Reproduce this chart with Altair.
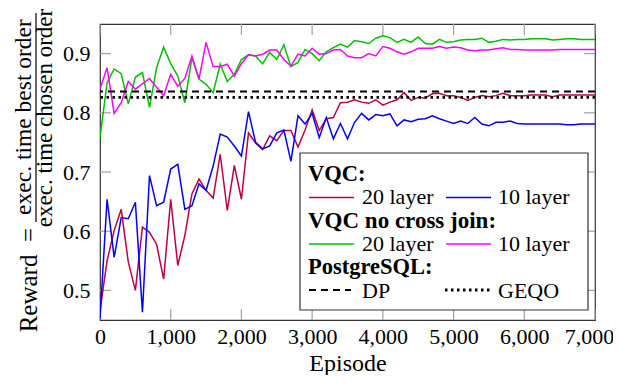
import altair as alt
import pandas as pd

# ---------------- data ----------------
episodes = list(range(0, 7001, 100))

vqc_20 = [0.466, 0.550, 0.601, 0.637, 0.548, 0.500, 0.607, 0.598, 0.578, 0.519,
          0.654, 0.542, 0.593, 0.663, 0.688, 0.669, 0.656, 0.730, 0.635, 0.711,
          0.654, 0.766, 0.749, 0.738, 0.761, 0.753, 0.770, 0.770, 0.742, 0.771,
          0.805, 0.770, 0.790, 0.792, 0.817, 0.818, 0.822, 0.818, 0.816, 0.822,
          0.813, 0.818, 0.822, 0.834, 0.821, 0.826, 0.825, 0.832, 0.833, 0.829,
          0.829, 0.826, 0.821, 0.826, 0.829, 0.827, 0.829, 0.833, 0.829, 0.829,
          0.829, 0.830, 0.830, 0.830, 0.827, 0.830, 0.830, 0.830, 0.830, 0.830,
          0.830]

vqc_10 = [0.452, 0.654, 0.556, 0.623, 0.621, 0.649, 0.463, 0.694, 0.643, 0.649,
          0.705, 0.713, 0.637, 0.643, 0.680, 0.669, 0.710, 0.764, 0.759, 0.744,
          0.727, 0.802, 0.750, 0.739, 0.744, 0.766, 0.771, 0.718, 0.795, 0.781,
          0.799, 0.758, 0.792, 0.756, 0.782, 0.756, 0.784, 0.799, 0.788, 0.797,
          0.795, 0.798, 0.778, 0.788, 0.785, 0.789, 0.790, 0.795, 0.790, 0.786,
          0.782, 0.786, 0.782, 0.792, 0.781, 0.778, 0.784, 0.784, 0.786, 0.782,
          0.781, 0.781, 0.781, 0.781, 0.781, 0.781, 0.780, 0.780, 0.781, 0.781,
          0.781]

nocj_20 = [0.758, 0.851, 0.874, 0.866, 0.815, 0.860, 0.868, 0.809, 0.876, 0.911,
           0.883, 0.862, 0.817, 0.893, 0.857, 0.848, 0.834, 0.882, 0.853, 0.865,
           0.890, 0.898, 0.896, 0.883, 0.902, 0.890, 0.915, 0.878, 0.885, 0.907,
           0.900, 0.888, 0.903, 0.910, 0.916, 0.911, 0.922, 0.920, 0.917, 0.926,
           0.930, 0.927, 0.919, 0.924, 0.919, 0.928, 0.917, 0.916, 0.924, 0.919,
           0.920, 0.923, 0.924, 0.924, 0.926, 0.919, 0.921, 0.924, 0.923, 0.924,
           0.924, 0.925, 0.925, 0.925, 0.923, 0.924, 0.925, 0.925, 0.924, 0.924,
           0.924]

nocj_10 = [0.840, 0.876, 0.799, 0.817, 0.853, 0.840, 0.849, 0.858, 0.843, 0.829,
           0.865, 0.845, 0.858, 0.896, 0.857, 0.919, 0.878, 0.878, 0.882, 0.862,
           0.883, 0.898, 0.896, 0.899, 0.906, 0.906, 0.890, 0.879, 0.899, 0.896,
           0.909, 0.899, 0.900, 0.906, 0.907, 0.896, 0.893, 0.893, 0.900, 0.896,
           0.912, 0.909, 0.903, 0.899, 0.903, 0.909, 0.909, 0.909, 0.912, 0.909,
           0.911, 0.910, 0.906, 0.905, 0.906, 0.906, 0.908, 0.910, 0.907, 0.907,
           0.906, 0.906, 0.906, 0.906, 0.906, 0.907, 0.907, 0.907, 0.907, 0.907,
           0.907]

dp_value = [0.836]
geqo_value = [0.826]

x_ticks = [0, 1000, 2000, 3000, 4000, 5000, 6000, 7000]
y_ticks = [0.5, 0.6, 0.7, 0.8, 0.9]

# ---------------- styling ----------------
W, H = 495, 296
FONT = "Liberation Serif"
FS = 22
C_VQC20 = "#bf0040"
C_VQC10 = "#0000ff"
C_NC20 = "#00c000"
C_NC10 = "#ff00ff"
TICK = "#a0a0a0"
LW = 1.5

xs = alt.Scale(domain=[0, 7000], nice=False, zero=False)
ys = alt.Scale(domain=[0.45, 0.95], nice=False, zero=False)

x_axis = alt.Axis(values=x_ticks, format=",d", ticks=False, domain=False, grid=False,
                  labelFont=FONT, labelFontSize=22, labelColor="black", labelPadding=6,
                  labelFlush=False,
                  labelOffset=alt.condition("datum.value == 7000", alt.value(-6), alt.value(0)),
                  title="Episode", titleFont=FONT, titleFontSize=24,
                  titleFontWeight="normal", titleColor="black", titlePadding=4)
y_axis = alt.Axis(values=y_ticks, format=".1f", ticks=False, domain=False, grid=False,
                  labelFont=FONT, labelFontSize=22, labelColor="black", labelPadding=10,
                  labelFlush=False, title=None)

X = alt.X("episode:Q", scale=xs, axis=x_axis)
Y = alt.Y("reward:Q", scale=ys, axis=y_axis)

one = pd.DataFrame({"d": [0]})


def series(vals, color):
    df = pd.DataFrame({"episode": episodes, "reward": vals})
    return alt.Chart(df).mark_line(color=color, strokeWidth=LW, clip=True).encode(x=X, y=Y)


def hline(vals, dash, width):
    df = pd.DataFrame({"reward": vals})
    return alt.Chart(df).mark_rule(color="black", strokeDash=dash,
                                   strokeWidth=width).encode(y=Y)


def txt(s, x, y, bold=False, size=FS, angle=0, align="left"):
    return alt.Chart(one).mark_text(text=s, font=FONT, fontSize=size,
                                    fontWeight="bold" if bold else "normal",
                                    align=align, baseline="middle", angle=angle,
                                    color="black").encode(x=alt.value(x), y=alt.value(y))


def seg(x1, x2, y, color, dash=None, width=LW):
    kw = dict(color=color, strokeWidth=width)
    if dash:
        kw["strokeDash"] = dash
    return alt.Chart(one).mark_rule(**kw).encode(
        x=alt.value(x1), x2=alt.value(x2), y=alt.value(y))


# inward ticks on all four sides
xt = pd.DataFrame({"episode": x_ticks})
yt = pd.DataFrame({"reward": y_ticks})
ticks = [
    alt.Chart(xt).mark_rule(color=TICK, strokeWidth=1.2).encode(
        x=X, y=alt.value(H - 11), y2=alt.value(H)),
    alt.Chart(xt).mark_rule(color=TICK, strokeWidth=1.2).encode(
        x=X, y=alt.value(0), y2=alt.value(11)),
    alt.Chart(yt).mark_rule(color=TICK, strokeWidth=1.2).encode(
        y=Y, x=alt.value(0), x2=alt.value(11)),
    alt.Chart(yt).mark_rule(color=TICK, strokeWidth=1.2).encode(
        y=Y, x=alt.value(W - 11), x2=alt.value(W)),
]

lines = [
    series(vqc_20, C_VQC20),
    series(vqc_10, C_VQC10),
    series(nocj_20, C_NC20),
    series(nocj_10, C_NC10),
    hline(dp_value, [7, 5], 2),
    hline(geqo_value, [2.5, 3.5], 2.8),
]

# legend box
lx0, lx1, ly0, ly1 = 200, 488, 129, 286
legend = [
    alt.Chart(one).mark_rect(fill="white", stroke="#333333", strokeWidth=1.2).encode(
        x=alt.value(lx0), x2=alt.value(lx1), y=alt.value(ly0), y2=alt.value(ly1)),
    txt("VQC:", 208, 149.5, bold=True, size=22.5),
    seg(209, 254, 173.5, C_VQC20),
    txt("20 layer", 262, 172.5),
    seg(346, 391, 173.5, C_VQC10),
    txt("10 layer", 398, 172.5),
    txt("VQC no cross join:", 208, 196.5, bold=True, size=23),
    seg(209, 254, 220, C_NC20),
    txt("20 layer", 262, 220),
    seg(346, 391, 220, C_NC10),
    txt("10 layer", 398, 220),
    txt("PostgreSQL:", 208, 243, bold=True, size=22.5),
    seg(209, 251, 266, "black", dash=[7, 5], width=2),
    txt("DP", 262, 266.5),
    seg(345, 391, 266, "black", dash=[2.5, 3.5], width=2.8),
    txt("GEQO", 398, 266.5),
]

# y-axis title: Reward = exec. time best order / exec. time chosen order
ytitle = [
    txt("Reward\u2002=", -71, 204, angle=270, align="right", size=25),
    txt("exec. time best order", -76, 93, angle=270, align="center", size=23.5),
    alt.Chart(one).mark_rule(color="black", strokeWidth=1.2).encode(
        x=alt.value(-64), y=alt.value(-11), y2=alt.value(198)),
    txt("exec. time chosen order", -55, 94, angle=270, align="center", size=23),
]

chart = alt.layer(*ticks, *lines, *legend, *ytitle).properties(
    width=W, height=H,
    padding={"left": 92, "top": 16, "right": 18, "bottom": 55},
    autosize=alt.AutoSizeParams(type="none"),
).configure_view(stroke="#333333", strokeWidth=1.2)

chart.save("out.html", embed_options={"renderer": "svg", "actions": False})
